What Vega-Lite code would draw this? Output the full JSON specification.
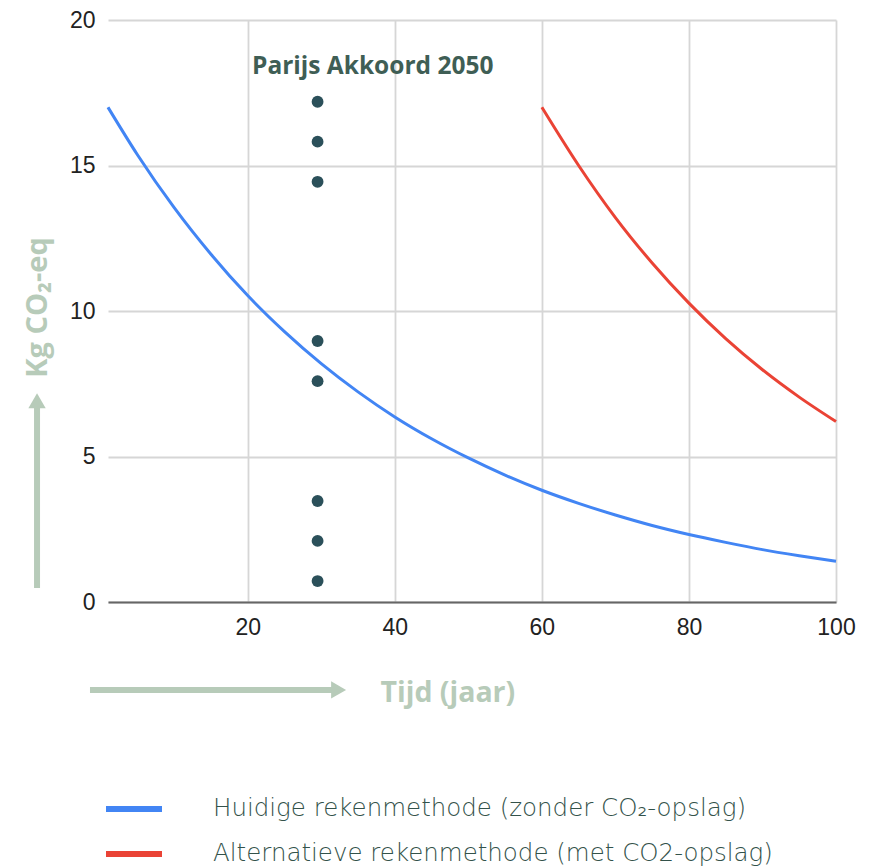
{
  "$schema": "https://vega.github.io/schema/vega-lite/v6.json",
  "width": 728,
  "height": 582,
  "autosize": {"type": "none"},
  "padding": {"left": 108, "top": 20, "right": 33, "bottom": 265},
  "background": "white",
  "config": {
    "view": {"stroke": null},
    "axis": {"labelFont": "Liberation Sans", "labelFontSize": 23, "labelColor": "#222222", "gridColor": "#d6d6d6", "gridWidth": 1.8, "ticks": false, "labelFlush": false}
  },
  "datasets": {
    "curves": [
      {"t": 1, "v": 17.0, "s": "Huidige rekenmethode (zonder CO₂-opslag)"},
      {"t": 5, "v": 15.37, "s": "Huidige rekenmethode (zonder CO₂-opslag)"},
      {"t": 10, "v": 13.55, "s": "Huidige rekenmethode (zonder CO₂-opslag)"},
      {"t": 15, "v": 11.95, "s": "Huidige rekenmethode (zonder CO₂-opslag)"},
      {"t": 20, "v": 10.53, "s": "Huidige rekenmethode (zonder CO₂-opslag)"},
      {"t": 25, "v": 9.29, "s": "Huidige rekenmethode (zonder CO₂-opslag)"},
      {"t": 30, "v": 8.19, "s": "Huidige rekenmethode (zonder CO₂-opslag)"},
      {"t": 35, "v": 7.22, "s": "Huidige rekenmethode (zonder CO₂-opslag)"},
      {"t": 40, "v": 6.36, "s": "Huidige rekenmethode (zonder CO₂-opslag)"},
      {"t": 45, "v": 5.61, "s": "Huidige rekenmethode (zonder CO₂-opslag)"},
      {"t": 50, "v": 4.95, "s": "Huidige rekenmethode (zonder CO₂-opslag)"},
      {"t": 55, "v": 4.36, "s": "Huidige rekenmethode (zonder CO₂-opslag)"},
      {"t": 60, "v": 3.84, "s": "Huidige rekenmethode (zonder CO₂-opslag)"},
      {"t": 65, "v": 3.39, "s": "Huidige rekenmethode (zonder CO₂-opslag)"},
      {"t": 70, "v": 2.99, "s": "Huidige rekenmethode (zonder CO₂-opslag)"},
      {"t": 75, "v": 2.63, "s": "Huidige rekenmethode (zonder CO₂-opslag)"},
      {"t": 80, "v": 2.32, "s": "Huidige rekenmethode (zonder CO₂-opslag)"},
      {"t": 85, "v": 2.05, "s": "Huidige rekenmethode (zonder CO₂-opslag)"},
      {"t": 90, "v": 1.8, "s": "Huidige rekenmethode (zonder CO₂-opslag)"},
      {"t": 95, "v": 1.59, "s": "Huidige rekenmethode (zonder CO₂-opslag)"},
      {"t": 100, "v": 1.4, "s": "Huidige rekenmethode (zonder CO₂-opslag)"},
      {"t": 60, "v": 17.0, "s": "Alternatieve rekenmethode (met CO2-opslag)"},
      {"t": 65, "v": 15.0, "s": "Alternatieve rekenmethode (met CO2-opslag)"},
      {"t": 70, "v": 13.21, "s": "Alternatieve rekenmethode (met CO2-opslag)"},
      {"t": 75, "v": 11.65, "s": "Alternatieve rekenmethode (met CO2-opslag)"},
      {"t": 80, "v": 10.27, "s": "Alternatieve rekenmethode (met CO2-opslag)"},
      {"t": 85, "v": 9.05, "s": "Alternatieve rekenmethode (met CO2-opslag)"},
      {"t": 90, "v": 7.98, "s": "Alternatieve rekenmethode (met CO2-opslag)"},
      {"t": 95, "v": 7.04, "s": "Alternatieve rekenmethode (met CO2-opslag)"},
      {"t": 100, "v": 6.2, "s": "Alternatieve rekenmethode (met CO2-opslag)"}
    ],
    "dots": [
      {"t": 29.5, "v": 17.19},
      {"t": 29.5, "v": 15.82},
      {"t": 29.5, "v": 14.44},
      {"t": 29.5, "v": 8.97},
      {"t": 29.5, "v": 7.59},
      {"t": 29.5, "v": 3.47},
      {"t": 29.5, "v": 2.1},
      {"t": 29.5, "v": 0.72}
    ],
    "note": [{"t": 37.0, "v": 18.38, "label": "Parijs Akkoord 2050"}],
    "shafts": [
      {"t": -8.65, "t2": -8.65, "v": 0.48, "v2": 6.75},
      {"t": -1.45, "t2": 31.6, "v": -3.02, "v2": -3.02}
    ],
    "headUp": [{"t": -8.65, "v": 6.92}],
    "headRight": [{"t": 32.36, "v": -3.02}]
  },
  "layer": [
    {
      "data": {"name": "curves"},
      "mark": {"type": "line", "strokeWidth": 3, "interpolate": "monotone"},
      "encoding": {
        "x": {
          "field": "t", "type": "quantitative",
          "scale": {"domain": [1, 100], "nice": false, "zero": false},
          "axis": {
            "values": [20, 40, 60, 80, 100],
            "title": "Tijd (jaar)",
            "titleFont": "Open Sans", "titleFontSize": 28.5, "titleFontWeight": "bold", "titleColor": "#b7cbb9",
            "titleAnchor": "start", "titleX": 272, "titleY": 90, "titleBaseline": "middle",
            "domainColor": "#666666", "domainWidth": 2,
            "labelPadding": 14
          }
        },
        "y": {
          "field": "v", "type": "quantitative",
          "scale": {"domain": [0, 20], "nice": false},
          "axis": {
            "values": [0, 5, 10, 15, 20],
            "title": "Kg CO₂-eq",
            "titleFont": "Open Sans", "titleFontSize": 29, "titleFontWeight": "bold", "titleColor": "#b7cbb9",
            "titleX": -71, "titleY": 287, "titleAngle": -90, "titleBaseline": "middle", "titleAlign": "center",
            "domain": false,
            "labelPadding": 13
          }
        },
        "color": {
          "field": "s", "type": "nominal",
          "scale": {
            "domain": ["Huidige rekenmethode (zonder CO₂-opslag)", "Alternatieve rekenmethode (met CO2-opslag)"],
            "range": ["#4285f4", "#ea4335"]
          },
          "legend": {
            "orient": "none", "legendX": -5, "legendY": 758, "direction": "vertical",
            "title": null,
            "symbolType": "stroke", "symbolSize": 3136, "symbolStrokeWidth": 6,
            "labelFont": "DejaVu Sans", "labelFontWeight": 200, "labelFontSize": 24.5, "labelColor": "#33524a",
            "labelOffset": 48, "rowPadding": 2, "labelLimit": 800
          }
        }
      }
    },
    {
      "data": {"name": "dots"},
      "mark": {"type": "circle", "size": 140, "color": "#2b505a", "opacity": 1},
      "encoding": {
        "x": {"field": "t", "type": "quantitative"},
        "y": {"field": "v", "type": "quantitative"}
      }
    },
    {
      "data": {"name": "note"},
      "mark": {"type": "text", "font": "Open Sans", "fontWeight": "bold", "fontSize": 24.5, "color": "#3f5e55", "align": "center", "baseline": "middle"},
      "encoding": {
        "x": {"field": "t", "type": "quantitative"},
        "y": {"field": "v", "type": "quantitative"},
        "text": {"field": "label"}
      }
    },
    {
      "data": {"name": "shafts"},
      "mark": {"type": "rule", "strokeWidth": 6, "color": "#b7cbb9", "clip": false},
      "encoding": {
        "x": {"field": "t", "type": "quantitative"},
        "x2": {"field": "t2"},
        "y": {"field": "v", "type": "quantitative"},
        "y2": {"field": "v2"}
      }
    },
    {
      "data": {"name": "headUp"},
      "mark": {"type": "point", "shape": "triangle-up", "filled": true, "size": 300, "color": "#b7cbb9", "opacity": 1},
      "encoding": {
        "x": {"field": "t", "type": "quantitative"},
        "y": {"field": "v", "type": "quantitative"}
      }
    },
    {
      "data": {"name": "headRight"},
      "mark": {"type": "point", "shape": "triangle-right", "filled": true, "size": 300, "color": "#b7cbb9", "opacity": 1},
      "encoding": {
        "x": {"field": "t", "type": "quantitative"},
        "y": {"field": "v", "type": "quantitative"}
      }
    }
  ]
}
